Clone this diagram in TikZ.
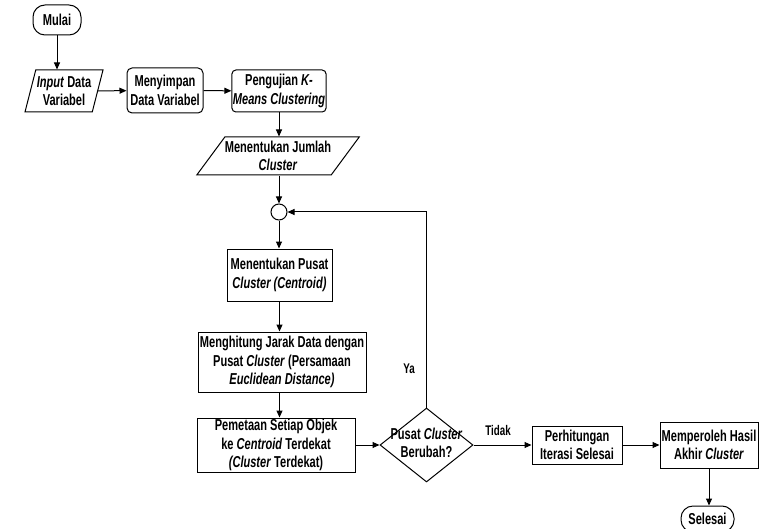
\documentclass[tikz,border=0pt]{standalone}
\usepackage{fontspec}
\setmainfont{Liberation Sans}[FakeStretch=0.70]
\usetikzlibrary{shapes.geometric,arrows.meta}
\begin{document}
\begin{tikzpicture}[x=1pt,y=-1pt,
  every node/.style={font=\fontsize{15.8}{18.5}\selectfont\bfseries, align=center, inner sep=1pt},
  box/.style={draw, line width=1pt, rectangle},
  rbox/.style={box, rounded corners=5pt},
  term/.style={box, rounded corners=12pt},
  io/.style={draw, line width=1pt, trapezium, trapezium stretches body, inner sep=0pt},
  dec/.style={draw, line width=1pt, diamond, inner sep=0pt},
  conn/.style={draw, line width=1pt, circle, inner sep=0pt, minimum size=16pt},
  arr/.style={line width=1pt, -{Triangle[length=7pt,width=6pt]}},
  lbl/.style={font=\fontsize{14}{16}\selectfont\bfseries}
]
\useasboundingbox (0,0) rectangle (759,529);

\node[term, minimum width=48pt, minimum height=30pt] (mulai) at (57,20) {Mulai};
\node[io, trapezium left angle=70, trapezium right angle=110, minimum width=78pt, minimum height=42pt] (input) at (64,91) {\textit{Input} Data\\Variabel};
\node[rbox, minimum width=76pt, minimum height=45pt] (simpan) at (165,90.5) {Menyimpan\\Data Variabel};
\node[rbox, rounded corners=4pt, minimum width=92pt, minimum height=42pt] (uji) at (279,91) {Pengujian \textit{K-}\\\textit{Means Clustering}};
\node[io, trapezium left angle=47, trapezium right angle=133, minimum width=150pt, minimum height=38pt] (jumlah) at (278,156) {Menentukan Jumlah\\\textit{Cluster}};
\node[conn] (circ) at (279,212) {};
\node[box, minimum width=105pt, minimum height=52pt] (pusat) at (279.5,275) {Menentukan Pusat\\\textit{Cluster (Centroid)}};
\node[box, minimum width=168pt, minimum height=60pt] (hitung) at (282,362) {Menghitung Jarak Data dengan\\Pusat \textit{Cluster} (Persamaan\\\textit{Euclidean Distance)}};
\node[box, minimum width=158pt, minimum height=54pt] (petakan) at (276,445) {Pemetaan Setiap Objek\\ke \textit{Centroid} Terdekat\\\textit{(Cluster} Terdekat)};
\node[dec, minimum width=93pt, minimum height=74pt] (ubah) at (426.5,445) {\makebox[0pt]{\begin{tabular}{@{}c@{}}Pusat \textit{Cluster}\\[-1pt]Berubah?\end{tabular}}};
\node[box, minimum width=90pt, minimum height=38pt] (iterasi) at (577,445) {Perhitungan\\Iterasi Selesai};
\node[box, minimum width=98pt, minimum height=46pt] (hasil) at (709,445) {Memperoleh Hasil\\Akhir \textit{Cluster}};
\node[term, minimum width=53pt, minimum height=26pt] (selesai) at (707.5,519) {Selesai};

\node[lbl] (ya) at (409,369) {Ya};
\node[lbl] (tidak) at (498,430) {Tidak};

\draw[arr] (mulai.south) -- (mulai.south |- input.north);
\draw[arr] (input) -- (simpan);
\draw[arr] (simpan) -- (uji);
\draw[arr] (uji.south) -- (uji.south |- jumlah.north);
\draw[arr] (circ.north |- jumlah.south) -- (circ.north);
\draw[arr] (circ.south) -- (circ.south |- pusat.north);
\draw[arr] (pusat.south) -- (pusat.south |- hitung.north);
\draw[arr] (pusat.south |- hitung.south) -- (pusat.south |- petakan.north);
\draw[arr] (petakan) -- (ubah);
\draw[arr] (ubah.north) |- (circ.east);
\draw[arr] (ubah) -- (iterasi);
\draw[arr] (iterasi) -- (hasil);
\draw[arr] (hasil.south) -- (hasil.south |- selesai.north);
\end{tikzpicture}
\end{document}
